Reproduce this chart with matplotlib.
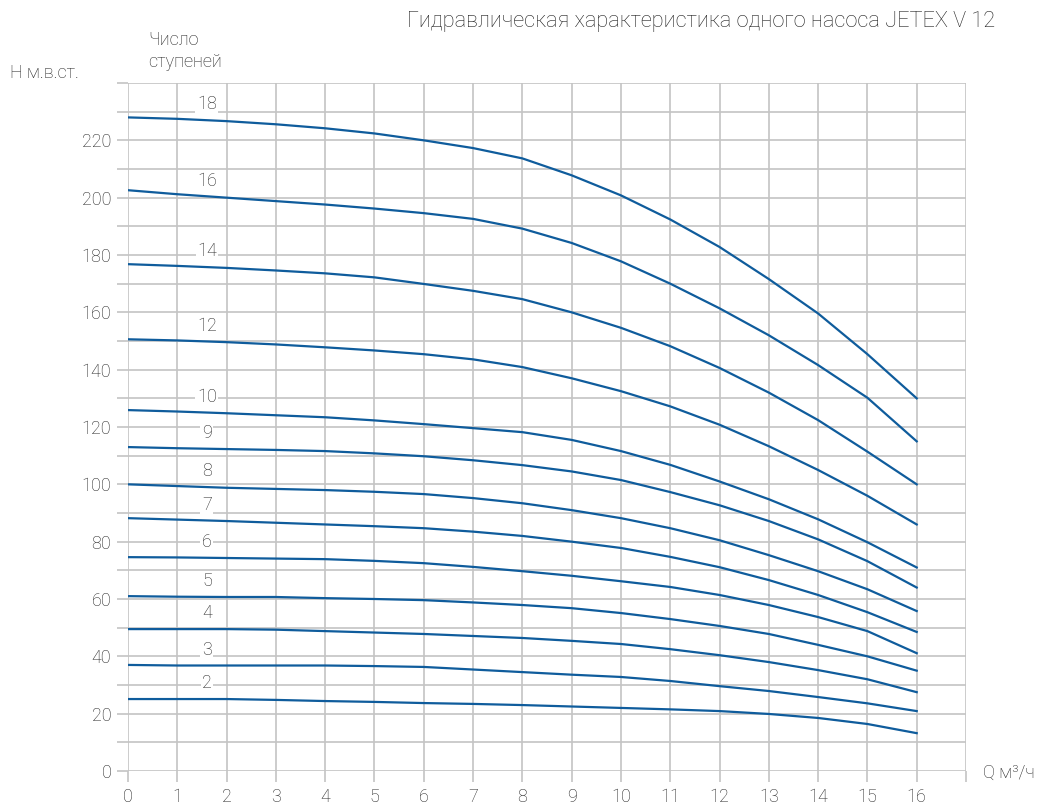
import matplotlib
matplotlib.use("Agg")
import matplotlib.pyplot as plt
import numpy as np

plt.rcParams['font.family'] = ['Roboto', 'DejaVu Sans']
plt.rcParams['font.weight'] = 'light'

# flow rate, m3/h
q = list(range(17))

# pump curves: head (m) for each number of stages
stages = [18, 16, 14, 12, 10, 9, 8, 7, 6, 5, 4, 3, 2]
heads = {
    18: [228, 227.5, 226.7, 225.6, 224.2, 222.4, 220, 217.3, 213.7, 207.8, 200.8, 192.4, 182.8, 171.6, 159.6, 145.4, 130],
    16: [202.6, 201.2, 200, 198.8, 197.6, 196.2, 194.6, 192.6, 189.2, 184.2, 177.8, 170, 161.4, 152, 141.6, 130.2, 115],
    14: [176.8, 176.2, 175.5, 174.6, 173.6, 172.2, 169.9, 167.5, 164.6, 160, 154.6, 148.2, 140.6, 132, 122.4, 111.4, 100],
    12: [150.6, 150.2, 149.6, 148.8, 147.8, 146.7, 145.4, 143.6, 140.9, 137, 132.5, 127.2, 120.8, 113.3, 105, 96, 86],
    10: [125.9, 125.4, 124.8, 124.1, 123.4, 122.3, 121, 119.6, 118.2, 115.5, 111.6, 106.8, 101, 94.8, 87.8, 79.8, 71],
    9: [113, 112.6, 112.3, 112, 111.6, 110.8, 109.8, 108.4, 106.7, 104.5, 101.5, 97.3, 92.7, 87.2, 80.8, 73.2, 64],
    8: [100, 99.4, 98.8, 98.4, 98, 97.4, 96.6, 95.2, 93.4, 91, 88.2, 84.7, 80.5, 75.3, 69.7, 63.4, 55.8],
    7: [88.2, 87.7, 87.2, 86.6, 86, 85.4, 84.7, 83.5, 82, 80, 77.8, 74.7, 71.1, 66.6, 61.4, 55.4, 48.5],
    6: [74.6, 74.5, 74.3, 74.1, 73.9, 73.3, 72.5, 71.2, 69.7, 68.1, 66.2, 64.2, 61.4, 57.9, 53.7, 48.8, 41.1],
    5: [61, 60.8, 60.7, 60.7, 60.3, 60, 59.6, 58.8, 57.9, 56.8, 55.1, 53, 50.6, 47.8, 44, 40, 35],
    4: [49.5, 49.5, 49.5, 49.3, 48.8, 48.3, 47.8, 47.1, 46.4, 45.4, 44.3, 42.5, 40.4, 38, 35.2, 32, 27.5],
    3: [37, 36.8, 36.8, 36.8, 36.8, 36.6, 36.3, 35.4, 34.5, 33.6, 32.8, 31.4, 29.6, 27.9, 25.8, 23.6, 20.9],
    2: [25.1, 25.1, 25.1, 24.8, 24.4, 24.1, 23.7, 23.4, 23, 22.5, 22, 21.5, 20.9, 19.9, 18.5, 16.4, 13.2],
}

x_ticks = list(range(18))
x_labels = [str(v) for v in range(17)] + ['']
y_ticks = list(range(0, 241, 10))
y_labels = [str(v) if v % 20 == 0 and v <= 220 else '' for v in y_ticks]

line_color = '#0f5c9c'
grid_color = '#c4c4c4'
text_color = '#222222'

fig = plt.figure(figsize=(10.39, 8.09), dpi=100)
ax = fig.add_axes([128 / 1039, 38 / 809, (966 - 128) / 1039, (771 - 83) / 809])

ax.set_xlim(0, 17)
ax.set_ylim(0, 240)
ax.set_xticks(x_ticks)
ax.set_xticklabels(x_labels)
ax.set_yticks(y_ticks)
ax.set_yticklabels(y_labels)
ax.grid(True, color=grid_color, linewidth=1.2)
ax.set_axisbelow(True)
for s in ax.spines.values():
    s.set_visible(False)
ax.tick_params(axis='both', color=grid_color, width=1.2, length=8,
               labelsize=13, labelcolor=text_color, pad=4)

label_x = 1.6
for n in stages:
    h = heads[n]
    ax.plot(q, h, color=line_color, linewidth=1.6, zorder=3,
            solid_joinstyle='round')
    y_lab = np.interp(label_x, q, h) + 5.5
    ax.text(label_x, y_lab, str(n), ha='center', va='center', fontsize=13,
            color=text_color, zorder=4,
            bbox=dict(facecolor='white', edgecolor='none', pad=1.0))

fig.text(995 / 1039, 1 - 22 / 809, 'Гидравлическая характеристика одного насоса JETEX V 12',
         ha='right', va='center', fontsize=15.7, color=text_color)
fig.text(10 / 1039, 1 - 73 / 809, 'Н м.в.ст.', ha='left', va='center',
         fontsize=13, color=text_color)
fig.text(148 / 1039, 1 - 51 / 809, 'Число\nступеней', ha='left', va='center',
         fontsize=13, color=text_color, linespacing=1.3)
fig.text(983 / 1039, 1 - 773 / 809, 'Q м³/ч', ha='left', va='center',
         fontsize=13, color=text_color)

fig.savefig('out.png', dpi=100)
